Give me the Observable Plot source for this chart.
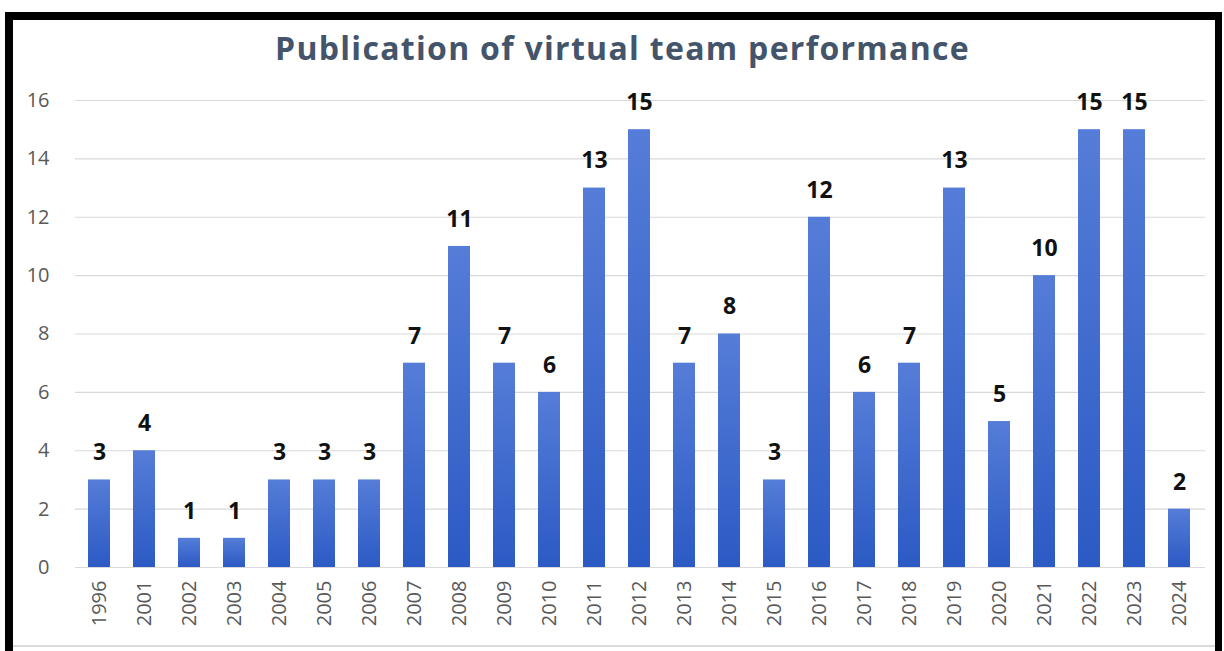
<!DOCTYPE html>
<html>
<head>
<meta charset="utf-8">
<script src="https://cdn.jsdelivr.net/npm/d3@7"></script>
<script src="https://cdn.jsdelivr.net/npm/@observablehq/plot@0.6"></script>
<style>
  html, body { margin: 0; padding: 0; background: #fff; width: 1224px; height: 651px; overflow: hidden; }
  #wrap { position: relative; width: 1224px; height: 651px; }
  #frame { position: absolute; left: 5px; top: 12px; width: 1202px; height: 660px;
           border-left: 8px solid #000; border-top: 8px solid #000; border-right: 7px solid #000; box-sizing: content-box; }
  #sheetline { position: absolute; left: 13px; top: 645px; width: 1202px; height: 0; border-top: 2px solid #d9d9d9; }
  #chart { position: absolute; left: 0; top: 0; }
</style>
</head>
<body>
<div id="wrap">
  <div id="chart"></div>
  <div id="frame"></div>
  <div id="sheetline"></div>
</div>
<script>
const years = ["1996","2001","2002","2003","2004","2005","2006","2007","2008","2009","2010","2011","2012","2013","2014","2015","2016","2017","2018","2019","2020","2021","2022","2023","2024"];
const counts = [3,4,1,1,3,3,3,7,11,7,6,13,15,7,8,3,12,6,7,13,5,10,15,15,2];
const yTicks = [0,2,4,6,8,10,12,14,16];
const title = "Publication of virtual team performance";

const data = years.map((y, i) => ({year: y, count: counts[i]}));

const chart = Plot.plot({
  width: 1224,
  height: 651,
  marginTop: 100,
  marginBottom: 84,
  marginLeft: 65,
  marginRight: 11,
  style: {background: "transparent", overflow: "visible"},
  x: {domain: years, padding: 0.51, label: null},
  y: {domain: [0, 16], label: null},
  marks: [
    () => {
      const ns = "http://www.w3.org/2000/svg";
      const defs = document.createElementNS(ns, "defs");
      defs.innerHTML = `<linearGradient id="barGrad" x1="0" y1="0" x2="0" y2="1">
        <stop offset="0" stop-color="#557dd8"/>
        <stop offset="1" stop-color="#2c5ac4"/>
      </linearGradient>`;
      return defs;
    },
    Plot.ruleY(yTicks, {stroke: "#d9d9d9", strokeWidth: 1.2, insetLeft: 10, insetRight: 8}),
    Plot.axisY({ticks: yTicks, tickSize: 0, tickPadding: 16, fontSize: 20, fill: "#595959", fontFamily: "Open Sans", label: null}),
    Plot.axisX({tickSize: 0, tickPadding: 13, tickRotate: -90, fontSize: 20, fill: "#595959", fontFamily: "Open Sans", label: null}),
    Plot.barY(data, {x: "year", y: "count", fill: "url(#barGrad)"}),
    Plot.text(data, {x: "year", y: "count", text: d => String(d.count), dy: -27, ariaLabel: "bar-labels",
      fontSize: 23, fontWeight: "bold", fill: "#111", fontFamily: "Open Sans"}),
    Plot.text([title], {frameAnchor: "top", text: d => d, dx: -17, dy: -63, fontSize: 32, fontWeight: "bold",
      ariaLabel: "chart-title", fill: "#44546a", fontFamily: "Open Sans"})
  ]
});
chart.querySelectorAll("text").forEach(t => {
  if (t.textContent === title) {
    t.setAttribute("letter-spacing", "1.3");
    t.style.letterSpacing = "1.3px";
  }
});
chart.querySelectorAll('g[aria-label="bar-labels"] text').forEach(t => {
  t.setAttribute("letter-spacing", "1");
  t.style.letterSpacing = "1px";
});
document.getElementById("chart").appendChild(chart);
</script>
</body>
</html>
